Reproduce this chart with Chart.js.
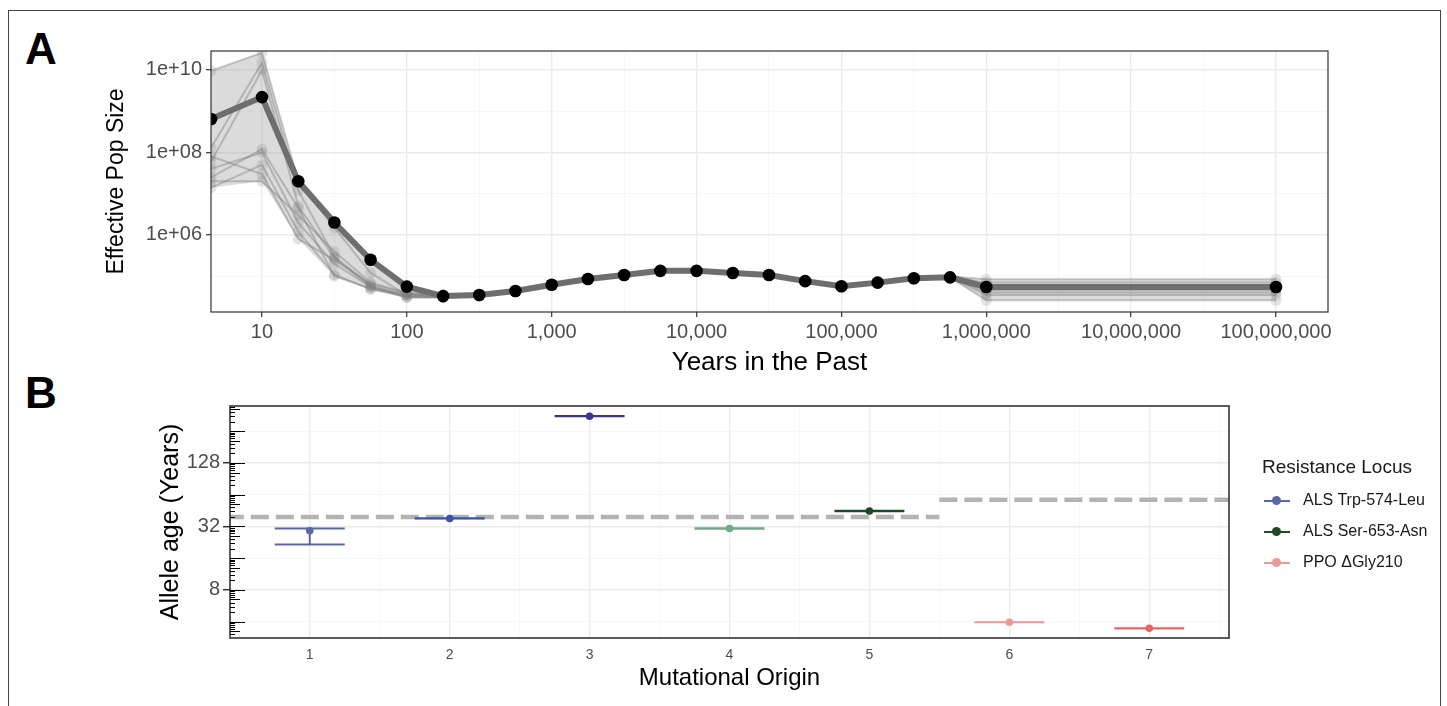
<!DOCTYPE html>
<html lang="en">
<head>
<meta charset="UTF-8">
<title>Effective population size and allele age</title>
<script src="https://cdn.jsdelivr.net/npm/chart.js@4.4.1/dist/chart.umd.min.js"></script>
<style>
  body { margin: 0; background: #fff; font-family: "Liberation Sans", Arial, sans-serif; }
  #fig { position: relative; width: 1447px; height: 706px; overflow: hidden; background: #fff; }
  .frame { position: absolute; left: 8px; top: 10px; width: 1431px; height: 760px; border: 1.5px solid #444; }
  .letter { position: absolute; font-weight: bold; font-size: 44px; line-height: 1; color: #000; }
  #wrapA { position: absolute; left: 0; top: 0; width: 1447px; height: 385px; }
  #wrapB { position: absolute; left: 0; top: 385px; width: 1447px; height: 321px; }
  .legend { position: absolute; left: 1262px; top: 456px; color: #1a1a1a; }
  .legend .title { font-size: 19px; margin-bottom: 8px; white-space: nowrap; }
  .legend .item { position: relative; height: 31px; font-size: 16px; white-space: nowrap; }
  .legend .key { position: absolute; left: 2px; top: 14px; width: 26px; height: 2px; }
  .legend .dot { position: absolute; left: 10px; top: 10px; width: 9px; height: 9px; border-radius: 50%; }
  .legend .lab { position: absolute; left: 41px; top: 5px; }
</style>
</head>
<body>
<div id="fig">
  <div class="frame"></div>
  <div class="letter" style="left:25px; top:27px;">A</div>
  <div class="letter" style="left:25px; top:371px;">B</div>
  <div id="wrapA"><canvas id="chartA"></canvas></div>
  <div id="wrapB"><canvas id="chartB"></canvas></div>
  <div class="legend" id="legendB"></div>
</div>

<script>
// ---------- panel A : effective population size through time ----------
const years = [4.45, 10, 17.8, 31.6, 56.2, 100, 178, 316, 562, 1000, 1778, 3162, 5623,
  10000, 17783, 31623, 56234, 100000, 177828, 316228, 562341, 1000000, 100000000];

const medianNe = [6.5e8, 2.2e9, 2.0e7, 2.0e6, 2.5e5, 5.6e4, 3.3e4, 3.5e4, 4.4e4, 6.2e4, 8.6e4, 1.07e5, 1.35e5,
  1.35e5, 1.2e5, 1.07e5, 7.6e4, 5.7e4, 7.0e4, 8.9e4, 9.4e4, 5.5e4, 5.5e4];

// individual bootstrap replicates (grey lines)
const rep1 = [9.5e9, 2.6e10, 2.0e7, 1.5e6, 1.2e5, 3.5e4, 3.2e4, 3.6e4, 4.6e4, 6.4e4, 8.8e4, 1.1e5, 1.4e5,
  1.4e5, 1.25e5, 1.1e5, 8.0e4, 6.0e4, 7.3e4, 9.3e4, 9.8e4, 8.5e4, 8.5e4];
const rep2 = [1.3e8, 1.5e10, 1.2e7, 3.0e5, 6.0e4, 3.2e4, 3.0e4, 3.3e4, 4.2e4, 6.0e4, 8.3e4, 1.04e5, 1.3e5,
  1.3e5, 1.16e5, 1.04e5, 7.3e4, 5.5e4, 6.7e4, 8.5e4, 9.0e4, 6.0e4, 6.0e4];
const rep3 = [6.0e7, 1.0e10, 5.0e6, 2.8e5, 5.5e4, 3.0e4, 3.1e4, 3.4e4, 4.3e4, 6.1e4, 8.4e4, 1.05e5, 1.33e5,
  1.32e5, 1.18e5, 1.05e5, 7.4e4, 5.6e4, 6.8e4, 8.7e4, 9.2e4, 4.5e4, 4.5e4];
const rep4 = [2.5e7, 1.2e8, 4.5e6, 1.0e5, 5.0e4, 3.5e4, 3.3e4, 3.5e4, 4.4e4, 6.2e4, 8.5e4, 1.06e5, 1.34e5,
  1.34e5, 1.19e5, 1.06e5, 7.5e4, 5.6e4, 6.9e4, 8.8e4, 9.3e4, 5.0e4, 5.0e4];
const rep5 = [4.0e7, 1.0e8, 2.0e6, 2.0e5, 5.5e4, 3.6e4, 3.4e4, 3.6e4, 4.5e4, 6.3e4, 8.7e4, 1.08e5, 1.36e5,
  1.36e5, 1.21e5, 1.08e5, 7.7e4, 5.8e4, 7.1e4, 9.0e4, 9.5e4, 4.0e4, 4.0e4];
const rep6 = [1.4e7, 5.0e7, 1.2e6, 1.1e5, 4.8e4, 3.2e4, 3.2e4, 3.5e4, 4.4e4, 6.2e4, 8.6e4, 1.07e5, 1.35e5,
  1.35e5, 1.2e5, 1.07e5, 7.6e4, 5.7e4, 7.0e4, 8.9e4, 9.4e4, 3.5e4, 3.5e4];
const rep7 = [8.0e7, 3.0e7, 8.0e5, 2.5e5, 6.5e4, 3.8e4, 3.6e4, 3.7e4, 4.6e4, 6.4e4, 8.9e4, 1.1e5, 1.38e5,
  1.38e5, 1.23e5, 1.1e5, 7.9e4, 5.9e4, 7.2e4, 9.1e4, 9.6e4, 7.0e4, 7.0e4];
const rep8 = [2.0e7, 2.0e7, 3.0e6, 4.0e5, 7.0e4, 4.0e4, 3.5e4, 3.6e4, 4.5e4, 6.3e4, 8.7e4, 1.09e5, 1.37e5,
  1.37e5, 1.22e5, 1.09e5, 7.8e4, 5.8e4, 7.1e4, 9.0e4, 9.5e4, 2.6e4, 2.6e4];

const xTickValues = [10, 100, 1000, 10000, 100000, 1000000, 10000000, 100000000];
const xTickLabels = ['10', '100', '1,000', '10,000', '100,000', '1,000,000', '10,000,000', '100,000,000'];
const xMinorTicks = [31.62, 316.2, 3162, 31623, 316228, 3162278, 31622777];
const yTickValues = [1e6, 1e8, 1e10];
const yTickLabels = ['1e+06', '1e+08', '1e+10'];
const yMinorTicks = [1e5, 1e7, 1e9];

// ---------- panel B : allele age per mutational origin ----------
const origins = [1, 2, 3, 4, 5, 6, 7];
const alleleAge = [29.1, 38.1, 355, 30.6, 44.8, 3.95, 3.46];
const ageLower = [21.6, 38.0, 354, 30.5, 44.6, 3.94, 3.45];
const ageUpper = [30.6, 38.2, 356, 30.7, 45.0, 3.96, 3.47];
const originColors = ['#5b68a6', '#3c53a6', '#3a3591', '#72a986', '#1e4729', '#ec9896', '#e06967'];
const groupMean = [39.3, 57.3];
const groupFrom = [0.4, 5.5];
const groupTo = [5.5, 7.6];
const ageTickValues = [8, 32, 128];
const ageMinorTicks = [4, 16, 64, 256];
const loci = ['ALS Trp-574-Leu', 'ALS Ser-653-Asn', 'PPO \u0394Gly210'];
const lociColors = ['#5b68a6', '#1e4a2b', '#ec9a98'];

const FONT = '"Liberation Sans", Arial, sans-serif';
const sameVal = (a, b) => Math.abs(Math.log(a) - Math.log(b)) < 1e-6;
const inList = (v, list) => list.some(t => sameVal(v, t));

const panelBorder = {
  id: 'panelBorder',
  afterDatasetsDraw(chart, args, opts) {
    const { ctx, chartArea: a } = chart;
    ctx.save();
    ctx.strokeStyle = opts.color;
    ctx.lineWidth = opts.width;
    ctx.strokeRect(a.left, a.top, a.right - a.left, a.bottom - a.top);
    ctx.restore();
  }
};

// ---- chart A ----
const replicates = [rep1, rep2, rep3, rep4, rep5, rep6, rep7, rep8];
const ribbonHi = years.map((x, i) => ({ x, y: Math.max(medianNe[i], ...replicates.map(r => r[i])) }));
const ribbonLo = years.map((x, i) => ({ x, y: Math.min(medianNe[i], ...replicates.map(r => r[i])) }));
const toXY = arr => arr.map((v, i) => ({ x: years[i], y: v }));

const datasetsA = [{
  label: 'median',
  data: toXY(medianNe),
  borderColor: '#6e6e6e',
  borderWidth: 6,
  pointRadius: 6.3,
  pointBackgroundColor: '#000',
  pointBorderWidth: 0,
  order: 0
}];
replicates.forEach((r, k) => datasetsA.push({
  label: 'rep' + (k + 1),
  data: toXY(r),
  borderColor: 'rgba(115,115,115,0.38)',
  borderWidth: 2,
  pointRadius: 5.5,
  pointBackgroundColor: 'rgba(130,130,130,0.22)',
  pointBorderWidth: 0,
  order: 1
}));
datasetsA.push({
  label: 'upper', data: ribbonHi, fill: '+1', backgroundColor: 'rgba(165,165,165,0.4)',
  borderWidth: 0, pointRadius: 0, order: 2
});
datasetsA.push({
  label: 'lower', data: ribbonLo, borderWidth: 0, pointRadius: 0, order: 2
});

new Chart(document.getElementById('chartA'), {
  type: 'line',
  data: { datasets: datasetsA },
  plugins: [panelBorder],
  options: {
    responsive: true,
    maintainAspectRatio: false,
    animation: false,
    events: [],
    layout: { padding: { left: 0, top: 51, right: 119, bottom: 0 } },
    plugins: {
      legend: { display: false },
      tooltip: { enabled: false },
      panelBorder: { color: '#333', width: 1.2 }
    },
    scales: {
      x: {
        type: 'logarithmic',
        min: Math.pow(10, 0.648),
        max: Math.pow(10, 8.359),
        afterBuildTicks: s => {
          s.ticks = [...xMinorTicks, ...xTickValues].sort((a, b) => a - b).map(v => ({ value: v }));
        },
        afterFit: s => { s.height = 73; },
        ticks: {
          autoSkip: false, maxRotation: 0, minRotation: 0, padding: 3,
          color: '#4d4d4d', font: { family: FONT, size: 20 },
          callback: v => { const i = xTickValues.findIndex(t => sameVal(t, v)); return i < 0 ? '' : xTickLabels[i]; }
        },
        grid: {
          color: c => inList(c.tick.value, xTickValues) ? '#ebebeb' : '#f4f4f4',
          lineWidth: c => inList(c.tick.value, xTickValues) ? 1.4 : 0.7,
          tickLength: 5,
          tickWidth: 1.2,
          tickColor: c => inList(c.tick.value, xTickValues) ? '#333' : 'rgba(0,0,0,0)'
        },
        border: { display: false },
        title: { display: true, text: 'Years in the Past', color: '#000',
          font: { family: FONT, size: 26 }, padding: { top: 0, bottom: 7 } }
      },
      y: {
        type: 'logarithmic',
        min: Math.pow(10, 4.133),
        max: Math.pow(10, 10.46),
        afterBuildTicks: s => {
          s.ticks = [...yMinorTicks, ...yTickValues].sort((a, b) => a - b).map(v => ({ value: v }));
        },
        afterFit: s => { s.width = 211; },
        ticks: {
          autoSkip: false, padding: 4,
          color: '#4d4d4d', font: { family: FONT, size: 20 },
          callback: v => { const i = yTickValues.findIndex(t => sameVal(t, v)); return i < 0 ? '' : yTickLabels[i]; }
        },
        grid: {
          color: c => inList(c.tick.value, yTickValues) ? '#ebebeb' : '#f4f4f4',
          lineWidth: c => inList(c.tick.value, yTickValues) ? 1.4 : 0.7,
          tickLength: 5,
          tickWidth: 1.2,
          tickColor: c => inList(c.tick.value, yTickValues) ? '#333' : 'rgba(0,0,0,0)'
        },
        border: { display: false },
        title: { display: true, text: 'Effective Pop Size', color: '#000',
          font: { family: FONT, size: 23 }, padding: { top: 103, bottom: 0 } }
      }
    }
  }
});

// ---- chart B ----
const errorBars = {
  id: 'errorBars',
  beforeDatasetDraw(chart, args) {
    if (args.meta.label !== 'age') return;
    const { ctx, scales: { x, y } } = chart;
    ctx.save();
    ctx.lineWidth = 2;
    origins.forEach((o, i) => {
      const x0 = x.getPixelForValue(o - 0.25), x1 = x.getPixelForValue(o + 0.25), xc = x.getPixelForValue(o);
      const yl = y.getPixelForValue(ageLower[i]), yu = y.getPixelForValue(ageUpper[i]);
      ctx.strokeStyle = originColors[i];
      ctx.beginPath();
      ctx.moveTo(x0, yu); ctx.lineTo(x1, yu);
      ctx.moveTo(x0, yl); ctx.lineTo(x1, yl);
      ctx.moveTo(xc, yu); ctx.lineTo(xc, yl);
      ctx.stroke();
    });
    ctx.restore();
  }
};

// log10-style tick marks along the inside of the left edge (annotation_logticks look)
const logTicks = {
  id: 'logTicks',
  afterDraw(chart) {
    const { ctx, chartArea: a, scales: { y } } = chart;
    ctx.save();
    ctx.strokeStyle = '#000';
    ctx.lineWidth = 1.2;
    ctx.beginPath();
    for (let n = 0; n <= 9; n++) {
      for (let k = 1; k <= 9; k++) {
        const v = Math.pow(2, n + Math.log10(k));
        if (v < y.min || v > y.max) continue;
        const py = Math.round(y.getPixelForValue(v)) + 0.5;
        const len = k === 1 ? 15 : (k === 5 ? 10 : 5);
        ctx.moveTo(a.left, py);
        ctx.lineTo(a.left + len, py);
      }
    }
    ctx.stroke();
    ctx.restore();
  }
};

const datasetsB = [{
  type: 'scatter',
  label: 'age',
  data: origins.map((o, i) => ({ x: o, y: alleleAge[i] })),
  pointRadius: 3.8,
  pointBorderWidth: 0,
  pointBackgroundColor: originColors,
  order: 0
}];
groupMean.forEach((m, i) => datasetsB.push({
  type: 'line',
  label: 'mean' + i,
  data: [{ x: groupFrom[i], y: m }, { x: groupTo[i], y: m }],
  borderColor: '#b3b3b3',
  borderWidth: 4.5,
  borderDash: [18, 7],
  pointRadius: 0,
  order: 1
}));

new Chart(document.getElementById('chartB'), {
  data: { datasets: datasetsB },
  plugins: [errorBars, panelBorder, logTicks],
  options: {
    responsive: true,
    maintainAspectRatio: false,
    animation: false,
    events: [],
    layout: { padding: { left: 0, top: 21, right: 218, bottom: 0 } },
    plugins: {
      legend: { display: false },
      tooltip: { enabled: false },
      panelBorder: { color: '#333', width: 1.6 }
    },
    scales: {
      x: {
        type: 'linear',
        min: 0.43,
        max: 7.57,
        afterBuildTicks: s => {
          const t = [];
          origins.forEach(o => { t.push({ value: o - 0.5 }); t.push({ value: o }); });
          t.push({ value: 7.5 });
          s.ticks = t;
        },
        afterFit: s => { s.height = 68; },
        ticks: {
          autoSkip: false, maxRotation: 0, padding: 9,
          color: '#4d4d4d', font: { family: FONT, size: 14 },
          callback: v => Number.isInteger(v) ? String(v) : ''
        },
        grid: {
          color: c => Number.isInteger(c.tick.value) ? '#ebebeb' : '#f4f4f4',
          lineWidth: c => Number.isInteger(c.tick.value) ? 1.4 : 0.7,
          drawTicks: false
        },
        border: { display: false },
        title: { display: true, text: 'Mutational Origin', color: '#000',
          font: { family: FONT, size: 24 }, padding: { top: 0, bottom: 13 } }
      },
      y: {
        type: 'logarithmic',
        min: 2.8,
        max: 444,
        afterBuildTicks: s => {
          s.ticks = [...ageMinorTicks, ...ageTickValues].sort((a, b) => a - b).map(v => ({ value: v }));
        },
        afterFit: s => { s.width = 230; },
        ticks: {
          autoSkip: false, padding: 3,
          color: '#4d4d4d', font: { family: FONT, size: 20 },
          callback: v => inList(v, ageTickValues) ? String(v) : ''
        },
        grid: {
          color: c => inList(c.tick.value, ageTickValues) ? '#ebebeb' : '#f4f4f4',
          lineWidth: c => inList(c.tick.value, ageTickValues) ? 1.4 : 0.7,
          tickLength: 7,
          tickWidth: 1.5,
          tickColor: c => inList(c.tick.value, ageTickValues) ? '#333' : 'rgba(0,0,0,0)'
        },
        border: { display: false },
        title: { display: true, text: 'Allele age (Years)', color: '#000',
          font: { family: FONT, size: 25 }, padding: { top: 156, bottom: 0 } }
      }
    }
  }
});

// legend for panel B
const legend = document.getElementById('legendB');
legend.innerHTML = '<div class="title">Resistance Locus</div>' + loci.map((name, i) =>
  '<div class="item"><div class="key" style="background:' + lociColors[i] + '"></div>' +
  '<div class="dot" style="background:' + lociColors[i] + '"></div>' +
  '<div class="lab">' + name + '</div></div>').join('');
</script>
</body>
</html>
